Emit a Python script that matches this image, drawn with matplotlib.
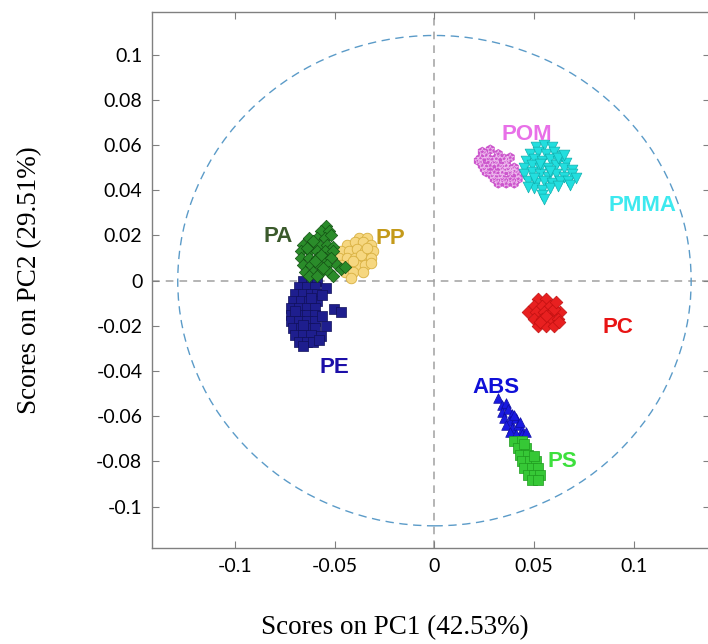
import matplotlib
matplotlib.use('Agg')
import matplotlib.pyplot as plt
import numpy as np
from matplotlib.patches import Ellipse

# PCA score clusters
pa_x = [-0.0545, -0.057, -0.053, -0.063, -0.059, -0.055, -0.052, -0.066, -0.062, -0.058, -0.054, -0.051,
        -0.067, -0.063, -0.059, -0.055, -0.051, -0.067, -0.063, -0.059, -0.055, -0.052,
        -0.066, -0.062, -0.058, -0.054, -0.049, -0.065, -0.061, -0.057, -0.053, -0.047, -0.063, -0.059, -0.051, -0.045,
        -0.061, -0.057, -0.060, -0.064, -0.056]
pa_y = [0.0240, 0.022, 0.022, 0.019, 0.019, 0.019, 0.020, 0.016, 0.016, 0.016, 0.016, 0.015,
        0.013, 0.013, 0.013, 0.013, 0.013, 0.010, 0.010, 0.010, 0.010, 0.010,
        0.007, 0.007, 0.007, 0.007, 0.007, 0.004, 0.004, 0.004, 0.004, 0.005, 0.002, 0.002, 0.002, 0.006,
        0.0175, 0.0115, 0.0085, 0.0145, 0.0055]

pp_x = [-0.038, -0.034, -0.044, -0.040, -0.036, -0.032, -0.047, -0.043, -0.039, -0.035, -0.031,
        -0.048, -0.044, -0.040, -0.036, -0.032, -0.047, -0.043, -0.039, -0.035, -0.032,
        -0.045, -0.041, -0.036, -0.042, -0.037, -0.041, -0.034]
pp_y = [0.019, 0.019, 0.016, 0.017, 0.017, 0.016, 0.013, 0.013, 0.014, 0.013, 0.013,
        0.010, 0.010, 0.010, 0.010, 0.010, 0.007, 0.007, 0.007, 0.007, 0.008,
        0.004, 0.004, 0.004, 0.001, 0.0115, 0.0085, 0.0145]

pe_x = [-0.066, -0.062, -0.059, -0.068, -0.064, -0.060, -0.070, -0.066, -0.062, -0.059,
        -0.071, -0.067, -0.063, -0.059, -0.072, -0.068, -0.064, -0.060, -0.072, -0.068, -0.064, -0.060,
        -0.072, -0.068, -0.064, -0.060, -0.071, -0.067, -0.063, -0.060, -0.070, -0.066, -0.062,
        -0.068, -0.064, -0.061, -0.066, -0.070, -0.066, -0.062,
        -0.0545, -0.0562, -0.0504, -0.0471, -0.0562, -0.0545, -0.0570, -0.0579]
pe_y = [0.000, 0.000, 0.000, -0.003, -0.003, -0.003, -0.006, -0.006, -0.006, -0.006,
        -0.009, -0.009, -0.009, -0.009, -0.012, -0.012, -0.012, -0.012, -0.015, -0.015, -0.015, -0.015,
        -0.018, -0.018, -0.018, -0.018, -0.021, -0.021, -0.021, -0.021, -0.024, -0.024, -0.024,
        -0.027, -0.027, -0.027, -0.029, -0.0135, -0.0195, -0.0075,
        -0.0032, -0.0062, -0.0127, -0.0137, -0.0156, -0.0200, -0.0244, -0.0261]

pom_x = [0.024, 0.028, 0.032, 0.023, 0.027, 0.031, 0.035, 0.024, 0.028, 0.032, 0.036, 0.040,
         0.026, 0.030, 0.034, 0.038, 0.042, 0.030, 0.034, 0.038, 0.042, 0.032, 0.036, 0.040,
         0.026, 0.030, 0.034, 0.029, 0.033, 0.037, 0.040, 0.036, 0.025, 0.022, 0.038]
pom_y = [0.057, 0.058, 0.056, 0.054, 0.054, 0.054, 0.054, 0.051, 0.051, 0.051, 0.051, 0.050,
         0.048, 0.048, 0.048, 0.048, 0.047, 0.045, 0.045, 0.045, 0.045, 0.043, 0.043, 0.043,
         0.0555, 0.0525, 0.0495, 0.0465, 0.0465, 0.0495, 0.0485, 0.0525, 0.0495, 0.053, 0.0545]

pmma_x = [0.051, 0.055, 0.059, 0.048, 0.052, 0.056, 0.060, 0.064, 0.046, 0.050, 0.054, 0.058, 0.062, 0.066,
          0.045, 0.049, 0.053, 0.057, 0.061, 0.065, 0.069, 0.045, 0.049, 0.053, 0.057, 0.061, 0.065, 0.069,
          0.047, 0.051, 0.055, 0.059, 0.063, 0.067, 0.050, 0.054, 0.058, 0.062, 0.054, 0.055,
          0.053, 0.058, 0.062, 0.050, 0.047, 0.068, 0.071, 0.065]
pmma_y = [0.059, 0.060, 0.059, 0.056, 0.057, 0.056, 0.057, 0.055, 0.053, 0.054, 0.053, 0.054, 0.053, 0.052,
          0.050, 0.051, 0.050, 0.050, 0.051, 0.050, 0.049, 0.047, 0.048, 0.047, 0.046, 0.047, 0.046, 0.047,
          0.044, 0.043, 0.044, 0.043, 0.044, 0.044, 0.041, 0.040, 0.041, 0.042, 0.038, 0.036,
          0.0515, 0.0485, 0.0545, 0.0455, 0.0415, 0.0425, 0.0455, 0.0555]

pc_x = [0.052, 0.056, 0.050, 0.054, 0.058, 0.047, 0.051, 0.055, 0.059, 0.063, 0.050, 0.054, 0.058, 0.062,
        0.052, 0.056, 0.060, 0.060, 0.056, 0.053, 0.061, 0.0625]
pc_y = [-0.008, -0.008, -0.011, -0.011, -0.011, -0.014, -0.014, -0.014, -0.014, -0.014,
        -0.017, -0.017, -0.017, -0.017, -0.020, -0.020, -0.020, -0.0125, -0.0155, -0.0185, -0.0095, -0.0185]

abs_x = [0.032, 0.034, 0.036, 0.034, 0.037, 0.039, 0.035, 0.038, 0.041, 0.036, 0.039, 0.042, 0.044,
         0.038, 0.041, 0.044, 0.046, 0.040, 0.043]
abs_y = [-0.052, -0.055, -0.054, -0.058, -0.057, -0.059, -0.061, -0.062, -0.061, -0.064, -0.065,
         -0.064, -0.066, -0.067, -0.068, -0.068, -0.067, -0.0595, -0.0625]

ps_x = [0.040, 0.044, 0.042, 0.046, 0.043, 0.047, 0.044, 0.048, 0.051, 0.045, 0.049, 0.052,
        0.047, 0.050, 0.053, 0.049, 0.052, 0.045, 0.050]
ps_y = [-0.071, -0.071, -0.074, -0.074, -0.077, -0.077, -0.080, -0.080, -0.080, -0.083, -0.083,
        -0.083, -0.086, -0.086, -0.086, -0.088, -0.088, -0.0725, -0.0775]

labels = ['PA', 'PP', 'PE', 'POM', 'PMMA', 'PC', 'ABS', 'PS']
label_x = [-0.0784, -0.0220, -0.0504, 0.0461, 0.1045, 0.0920, 0.0307, 0.0641]
label_y = [0.0196, 0.0188, -0.0384, 0.0645, 0.0332, -0.0208, -0.0472, -0.0801]
label_colors = ['#3b5a2c', '#c49a1a', '#1c0fa8', '#e870e8', '#3de9ef', '#e81414', '#1010d8', '#3de03d']

fig = plt.figure(figsize=(7.08, 6.44), dpi=100)
ax = fig.add_axes([0.2147, 0.1491, 0.788, 0.8323])

ax.axhline(0, color='#a0a0a0', ls=(0, (5, 4)), lw=1.1, zorder=1)
ax.axvline(0, color='#a0a0a0', ls=(0, (5, 4)), lw=1.1, zorder=1)
ax.add_patch(Ellipse((0, 0), 2 * 0.1287, 2 * 0.1085, fill=False, ec='#5b9bc8',
                     ls=(0, (6, 4)), lw=1.0, zorder=1))

ax.scatter(pe_x, pe_y, marker='s', s=48, c='#1e1e8e', edgecolors='#10105a', linewidths=0.5, zorder=3)
ax.scatter(pa_x, pa_y, marker='D', s=40, c='#2a8c2a', edgecolors='#145214', linewidths=0.5, zorder=4)
ax.scatter(pp_x, pp_y, marker='o', s=58, c='#f6d780', edgecolors='#d8b040', linewidths=0.6, zorder=3)
ax.scatter(pom_x, pom_y, marker='h', s=55, c='#cc55cc', edgecolors='none', zorder=3)
ax.scatter(pom_x, pom_y, marker='*', s=30, c='none', edgecolors='#f0c0f0', linewidths=0.5, zorder=3)
ax.scatter(pmma_x, pmma_y, marker='v', s=60, c='#22dede', edgecolors='#12b0b0', linewidths=0.5, zorder=3)
ax.scatter(pc_x, pc_y, marker='D', s=42, c='#e82020', edgecolors='#c01010', linewidths=0.5, zorder=3)
ax.scatter(abs_x, abs_y, marker='^', s=48, c='#1a1ae0', edgecolors='#0e0ea0', linewidths=0.5, zorder=3)
ax.scatter(ps_x, ps_y, marker='s', s=42, c='#36c836', edgecolors='#1f9a1f', linewidths=0.5, zorder=3)

for name, lx, ly, col in zip(labels, label_x, label_y, label_colors):
    ax.text(lx, ly, name, color=col, fontsize=16, fontweight='bold',
            family='Liberation Sans', ha='center', va='center', zorder=5)

ax.set_xlim(-0.1416, 0.1381)
ax.set_ylim(-0.1183, 0.1189)
ax.set_xticks([-0.1, -0.05, 0, 0.05, 0.1])
ax.set_xticklabels(['-0.1', '-0.05', '0', '0.05', '0.1'])
ax.set_yticks([-0.1, -0.08, -0.06, -0.04, -0.02, 0, 0.02, 0.04, 0.06, 0.08, 0.1])
ax.set_yticklabels(['-0.1', '-0.08', '-0.06', '-0.04', '-0.02', '0', '0.02', '0.04', '0.06', '0.08', '0.1'])
ax.tick_params(direction='in', length=5, width=0.8, color='#808080', top=True, right=True,
               labelsize=14, pad=7)
for lab in ax.get_xticklabels() + ax.get_yticklabels():
    lab.set_family('Lato')
for sp in ax.spines.values():
    sp.set_color('#808080')
    sp.set_linewidth(1.0)

fig.text(0.558, 0.025, 'Scores on PC1 (42.53%)', family='Liberation Serif', fontsize=19.5,
         ha='center', va='center')
fig.text(0.042, 0.565, 'Scores on PC2 (29.51%)', family='Liberation Serif', fontsize=19.5,
         ha='center', va='center', rotation=90)

fig.savefig('out.png', dpi=100)
